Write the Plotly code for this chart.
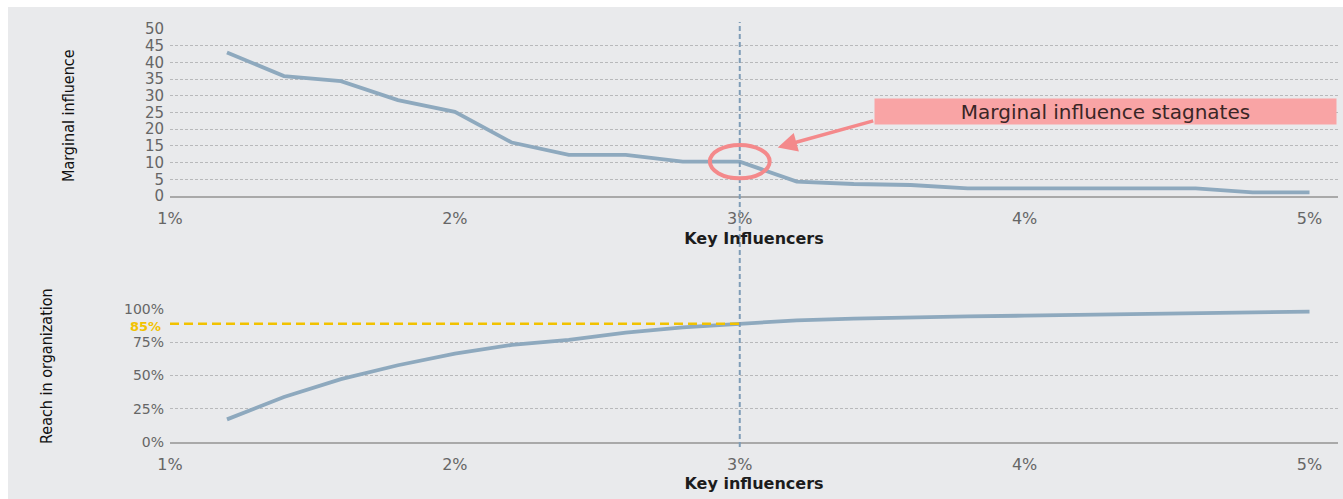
import plotly.graph_objects as go

# ---------------- data ----------------
key_pct = [1.2, 1.4, 1.6, 1.8, 2.0, 2.2, 2.4, 2.6, 2.8, 3.0,
           3.2, 3.4, 3.6, 3.8, 4.0, 4.2, 4.4, 4.6, 4.8, 5.0]
marginal_influence = [43.0, 35.9, 34.4, 28.7, 25.2, 16.0, 12.3, 12.3, 10.3, 10.3,
                      4.3, 3.6, 3.3, 2.3, 2.3, 2.3, 2.3, 2.3, 1.1, 1.1]
reach = [0.17, 0.338, 0.473, 0.577, 0.665, 0.73, 0.768, 0.822, 0.862, 0.89,
         0.915, 0.928, 0.938, 0.945, 0.95, 0.955, 0.962, 0.968, 0.974, 0.98]
x_ticks = [1, 2, 3, 4, 5]
x_tick_labels = ["1%", "2%", "3%", "4%", "5%"]
y1_ticks = [0, 5, 10, 15, 20, 25, 30, 35, 40, 45, 50]
y2_ticks = [0, 0.25, 0.5, 0.75, 1.0]
threshold = 3.0
target_label = "85%"
callout_text = "Marginal influence stagnates"
top_x_title = "Key Influencers"
bottom_x_title = "Key influencers"
top_y_title = "Marginal influence"
bottom_y_title = "Reach in organization"

# ---------------- styling ----------------
W, H = 1343, 499
ML, MR = 170, 5
PW = W - ML - MR
X_RANGE = [1.0, 5.1]

BG = "#e9eaec"
LINE = "#8ea9be"
GRID = "#b8b9bb"
AXIS = "#a9a9a9"
TICK_FONT = dict(family="DejaVu Sans", size=15, color="#666666")
Y2TICK_FONT = dict(family="DejaVu Sans", size=14, color="#666666")
XTICK_FONT = dict(family="DejaVu Sans", size=16, color="#666666")
TITLE_FONT = dict(family="DejaVu Sans", size=16, color="#1c1c1c", weight="bold")
YT_FONT = dict(family="Liberation Sans Narrow, DejaVu Sans Condensed, Arial Narrow, sans-serif",
               size=16, color="#111111")
PINK = "#f4898b"
BOX = "#f9a4a5"
GOLD = "#f2c200"


def px_x(px):
    return (px - ML) / PW


def px_y(py):
    return 1 - py / H


idx = min(range(len(key_pct)), key=lambda i: abs(key_pct[i] - threshold))
mi_at_thr = marginal_influence[idx]
reach_at_thr = reach[idx]

fig = go.Figure()
fig.add_trace(go.Scatter(x=key_pct, y=marginal_influence, mode="lines",
                         line=dict(color=LINE, width=3.8), xaxis="x", yaxis="y",
                         showlegend=False, hoverinfo="x+y"))
fig.add_trace(go.Scatter(x=key_pct, y=reach, mode="lines",
                         line=dict(color=LINE, width=3.8), xaxis="x2", yaxis="y2",
                         showlegend=False, hoverinfo="x+y"))

common_x = dict(range=X_RANGE, tickmode="array", tickvals=x_ticks, ticktext=x_tick_labels,
                showgrid=False, showline=True, linecolor=AXIS, linewidth=2, ticks="",
                ticklabelstandoff=7, tickfont=XTICK_FONT, zeroline=False, automargin=False)
common_y = dict(showgrid=True, gridcolor=GRID, griddash="3px,2px", gridwidth=1,
                zeroline=False, ticks="", ticklabelstandoff=5,
                showline=False, automargin=False)

fig.update_layout(
    width=W, height=H,
    margin=dict(l=ML, r=MR, t=0, b=0, autoexpand=False),
    paper_bgcolor="white",
    plot_bgcolor="rgba(0,0,0,0)",
    xaxis=dict(domain=[0, 1], anchor="y",
               title=dict(text=top_x_title, font=TITLE_FONT, standoff=6), **common_x),
    yaxis=dict(domain=[px_y(196), px_y(29)], range=[0, 50], tickvals=y1_ticks,
               anchor="x", tickfont=TICK_FONT, **common_y),
    xaxis2=dict(domain=[0, 1], anchor="y2",
                title=dict(text=bottom_x_title, font=TITLE_FONT, standoff=5), **common_x),
    yaxis2=dict(domain=[px_y(442), px_y(309)], range=[0, 1.0], tickvals=y2_ticks,
                tickformat=".0%", anchor="x2", tickfont=Y2TICK_FONT, **common_y),
)

# background panel (white strip at top and left like the reference)
fig.add_shape(type="rect", xref="paper", yref="paper",
              x0=px_x(8), x1=px_x(W + 2), y0=px_y(H + 2), y1=px_y(7),
              fillcolor=BG, line=dict(width=0), layer="below")

# vertical threshold line across both panels
fig.add_shape(type="line", xref="x", yref="paper", x0=threshold, x1=threshold,
              y0=px_y(447), y1=px_y(22),
              line=dict(color="#7f9db7", width=2, dash="5px,3px"), layer="above")

# yellow target line
fig.add_shape(type="line", xref="x2", yref="y2", x0=X_RANGE[0], x1=threshold,
              y0=reach_at_thr, y1=reach_at_thr,
              line=dict(color=GOLD, width=2.5, dash="9px,5px"), layer="above")

# circle around the stagnation point
rx, ry = 0.105, 5.0
fig.add_shape(type="circle", xref="x", yref="y",
              x0=threshold - rx, x1=threshold + rx,
              y0=mi_at_thr - ry, y1=mi_at_thr + ry,
              line=dict(color=PINK, width=4), layer="above")

# arrow pointing to the circle
fig.add_annotation(x=threshold + 1.27 * rx, y=mi_at_thr + 0.85 * ry, xref="x", yref="y",
                   text="", showarrow=True, ax=97, ay=-27,
                   arrowhead=2, arrowsize=1.1, arrowwidth=3.5, arrowcolor=PINK, standoff=0)

# callout box
fig.add_annotation(x=px_x(1105), y=px_y(111), xref="paper", yref="paper",
                   xanchor="center", yanchor="middle",
                   text=callout_text, showarrow=False, width=461, height=25,
                   bgcolor=BOX, borderpad=0,
                   font=dict(family="DejaVu Sans", size=20, color="#3a2626"))

# 85% label
fig.add_annotation(x=0, y=reach_at_thr, xref="paper", yref="y2",
                   xanchor="right", yanchor="middle",
                   xshift=-7, yshift=-3, text="<b>" + target_label + "</b>", showarrow=False,
                   font=dict(family="DejaVu Sans", size=13, color=GOLD))

# y-axis titles
fig.add_annotation(x=px_x(68), y=px_y(116), xref="paper", yref="paper",
                   xanchor="center", yanchor="middle",
                   text=top_y_title, textangle=-90, showarrow=False, font=YT_FONT)
fig.add_annotation(x=px_x(46), y=px_y(366), xref="paper", yref="paper",
                   xanchor="center", yanchor="middle",
                   text=bottom_y_title, textangle=-90, showarrow=False, font=YT_FONT)

fig.write_html("out.html")
